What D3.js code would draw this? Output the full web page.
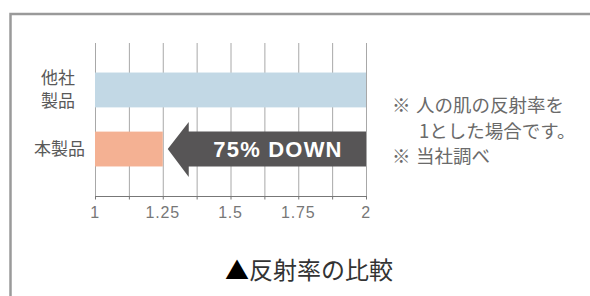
<!DOCTYPE html>
<html>
<head>
<meta charset="utf-8">
<script src="https://cdn.jsdelivr.net/npm/d3@7"></script>
<style>
  html, body { margin: 0; padding: 0; background: #fff; }
  svg { display: block; }
</style>
</head>
<body>
<svg width="590" height="296"></svg>
<script>
const categories = ["他社製品", "本製品"];
const categoryLines = [["他社", "製品"], ["本製品"]];
const values = [2, 1.25];
const tickValues = [1, 1.25, 1.5, 1.75, 2];
const gridValues = [1, 1.125, 1.25, 1.375, 1.5, 1.625, 1.75, 1.875, 2];
const barColors = ["#c2d8e5", "#f4b193"];
const arrowFrom = 2, arrowTo = 1.25;
const arrowLabel = "75% DOWN";
const noteMarks = ["※", "", "※"];
const notes = ["人の肌の反射率を", "1とした場合です。", "当社調べ"];
const titleMark = "▲";
const title = "反射率の比較";

const jp = "'Noto Sans CJK JP', 'Noto Sans', sans-serif";
const plot = {left: 95, right: 366, top: 43, bottom: 196};

var svg = d3.select("svg");

// frame (only top and left edges visible)
svg.append("path")
   .attr("d", "M10.5,600 V14 H700")
   .attr("fill", "none")
   .attr("stroke", "#9a9a9a")
   .attr("stroke-width", 2.5);

function getValueScale(){
  return d3.scaleLinear().domain([1, 2]).range([plot.left, plot.right]);
}
function getCategoryScale(){
  return d3.scaleBand()
           .domain(categories)
           .range([plot.top, plot.bottom])
           .paddingInner(0.41)
           .paddingOuter(0.5);
}

var x = getValueScale();
var y = getCategoryScale();

// vertical grid
svg.append("g")
   .selectAll("line")
   .data(gridValues)
   .join("line")
   .attr("x1", d => x(d) + 0.5).attr("x2", d => x(d) + 0.5)
   .attr("y1", plot.top).attr("y2", plot.bottom)
   .attr("stroke", "#a8a8a8")
   .attr("stroke-width", 1);

// bottom axis
var xAxis = d3.axisBottom(x).tickValues(gridValues).tickSize(3).tickFormat("");
svg.append("g")
   .attr("transform", "translate(0," + (plot.bottom + 0.5) + ")")
   .call(xAxis)
   .call(g => {
     g.select(".domain").attr("stroke", "#777").attr("d", "M" + plot.left + ",0H" + (plot.right + 1));
     g.selectAll(".tick line").attr("stroke", "#777");
   });

svg.append("g")
   .selectAll("text")
   .data(tickValues)
   .join("text")
   .attr("x", d => x(d))
   .attr("y", 218)
   .attr("text-anchor", "middle")
   .attr("font-family", "'Liberation Sans', Arial, sans-serif")
   .attr("font-size", 16)
   .attr("letter-spacing", 0.8)
   .attr("fill", "#777")
   .text(d => d);

// bars
svg.append("g")
   .selectAll("rect")
   .data(categories)
   .join("rect")
   .attr("x", x(1))
   .attr("y", d => y(d))
   .attr("width", (d, i) => x(values[i]) - x(1))
   .attr("height", y.bandwidth())
   .attr("fill", (d, i) => barColors[i]);

// category labels
categories.forEach(function(c, i){
  var lines = categoryLines[i];
  var cy = y(c) + y.bandwidth() / 2;
  var t = svg.append("text")
     .attr("font-family", jp)
     .attr("font-size", 17)
     .attr("fill", "#595959");
  lines.forEach(function(l, j){
    t.append("tspan")
     .attr("x", lines.length > 1 ? 58 : 85)
     .attr("text-anchor", lines.length > 1 ? "middle" : "end")
     .attr("y", cy + 6 + (j - (lines.length - 1) / 2) * 23)
     .text(l);
  });
});

// arrow
var row = categories[1];
var ay0 = y(row), ay1 = y(row) + y.bandwidth(), acy = ay0 + y.bandwidth() / 2;
var tipX = x(arrowTo) + 5, baseX = x(arrowTo) + 26, endX = x(arrowFrom);
svg.append("path")
   .attr("d", "M" + tipX + "," + acy +
              "L" + baseX + "," + (acy - 27) +
              "L" + baseX + "," + ay0 +
              "L" + endX + "," + ay0 +
              "L" + endX + "," + ay1 +
              "L" + baseX + "," + ay1 +
              "L" + baseX + "," + (acy + 28) + "Z")
   .attr("fill", "#575556");
svg.append("text")
   .attr("x", 278)
   .attr("y", acy + 8)
   .attr("text-anchor", "middle")
   .attr("font-family", "'Liberation Sans', Arial, sans-serif")
   .attr("font-weight", "bold")
   .attr("font-size", 22)
   .attr("letter-spacing", 1.2)
   .attr("fill", "#fff")
   .text(arrowLabel);

// notes
var noteG = svg.append("g")
   .attr("font-family", jp)
   .attr("font-size", 18.5)
   .attr("fill", "#6a6a6a");
noteG.selectAll("text.mark")
   .data(noteMarks)
   .join("text")
   .attr("class", "mark")
   .attr("x", 392)
   .attr("y", (d, i) => 112 + i * 25.5)
   .text(d => d);
noteG.selectAll("text.note")
   .data(notes)
   .join("text")
   .attr("class", "note")
   .attr("x", (d, i) => i === 1 ? 419 : 416)
   .attr("y", (d, i) => 112 + i * 25.5)
   .text(d => d);

// title
var titleText = svg.append("text")
   .attr("x", 309)
   .attr("y", 279)
   .attr("text-anchor", "middle")
   .attr("font-family", jp)
   .attr("font-size", 24)
   .attr("fill", "#333");
titleText.append("tspan").attr("fill", "#000").text(titleMark);
titleText.append("tspan").text(title);
</script>
</body>
</html>
